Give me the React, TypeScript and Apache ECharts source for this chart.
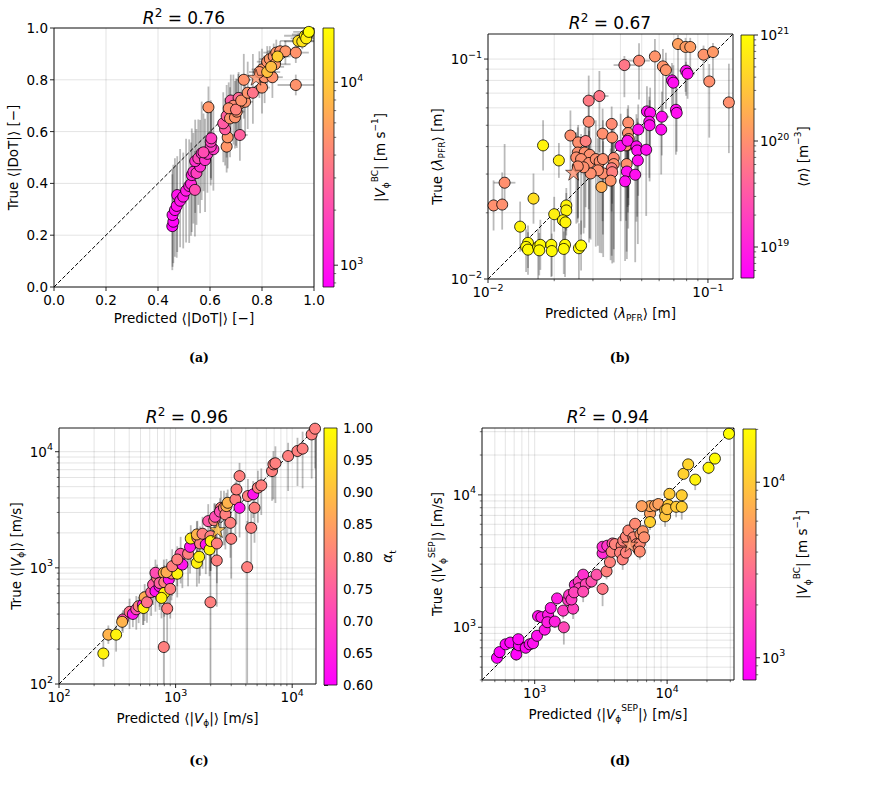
import React, { useEffect, useRef } from 'react';
import * as echarts from 'echarts';

const FONT = 'DejaVu Sans';
const FS = 13.5;

// ---------------- (a) DoT ----------------
const dotRange = [0, 1];
const dotTicks = [0, 0.2, 0.4, 0.6, 0.8, 1.0];
const dotColorRange = [760, 19800];
const dotR2 = '0.76';
// [predicted, true, |V_BC|, xErr, yErrDown, yErrUp]
const dotPoints = [
  [0.455, 0.235, 780, 0.012, 0.17, 0.2], [0.459, 0.252, 820, 0.012, 0.16, 0.22],
  [0.456, 0.278, 880, 0.012, 0.2, 0.18], [0.465, 0.297, 900, 0.015, 0.18, 0.2],
  [0.472, 0.313, 950, 0.015, 0.2, 0.16], [0.474, 0.355, 1000, 0.015, 0.22, 0.15],
  [0.485, 0.333, 1000, 0.015, 0.18, 0.2], [0.497, 0.349, 1050, 0.015, 0.2, 0.17],
  [0.508, 0.372, 1100, 0.02, 0.2, 0.2], [0.52, 0.39, 1200, 0.02, 0.22, 0.18],
  [0.527, 0.398, 1250, 0.02, 0.2, 0.16], [0.542, 0.375, 2000, 0.02, 0.18, 0.15],
  [0.53, 0.432, 1250, 0.02, 0.22, 0.18], [0.536, 0.445, 1300, 0.02, 0.2, 0.15],
  [0.548, 0.44, 1700, 0.02, 0.2, 0.17], [0.562, 0.465, 1350, 0.02, 0.18, 0.18],
  [0.543, 0.486, 1400, 0.02, 0.2, 0.16], [0.555, 0.497, 1900, 0.02, 0.18, 0.15],
  [0.568, 0.516, 1450, 0.02, 0.18, 0.2], [0.581, 0.49, 1450, 0.02, 0.2, 0.16],
  [0.59, 0.514, 1500, 0.02, 0.15, 0.18], [0.613, 0.532, 1550, 0.02, 0.16, 0.15],
  [0.603, 0.542, 1600, 0.02, 0.15, 0.16], [0.603, 0.561, 1650, 0.02, 0.14, 0.16],
  [0.605, 0.574, 1700, 0.02, 0.16, 0.14], [0.575, 0.52, 2000, 0.02, 0.15, 0.15],
  [0.594, 0.694, 5200, 0.02, 0.1, 0.08], [0.664, 0.542, 5200, 0.02, 0.1, 0.12],
  [0.668, 0.578, 5200, 0.02, 0.12, 0.12], [0.715, 0.587, 2600, 0.03, 0.1, 0.1],
  [0.658, 0.609, 2500, 0.02, 0.14, 0.12], [0.651, 0.632, 2400, 0.02, 0.15, 0.12],
  [0.664, 0.66, 2600, 0.02, 0.16, 0.12], [0.677, 0.651, 5000, 0.02, 0.15, 0.12],
  [0.696, 0.655, 5000, 0.02, 0.12, 0.14], [0.703, 0.677, 5000, 0.03, 0.14, 0.12],
  [0.709, 0.703, 5200, 0.03, 0.13, 0.12], [0.735, 0.715, 5000, 0.03, 0.12, 0.1],
  [0.68, 0.72, 2500, 0.02, 0.15, 0.1], [0.71, 0.73, 2900, 0.02, 0.12, 0.1],
  [0.69, 0.7, 4500, 0.03, 0.15, 0.12], [0.672, 0.69, 4800, 0.02, 0.16, 0.1],
  [0.7, 0.685, 4000, 0.02, 0.14, 0.12], [0.72, 0.72, 5000, 0.03, 0.12, 0.1],
  [0.745, 0.75, 5000, 0.03, 0.14, 0.12], [0.765, 0.75, 3400, 0.03, 0.12, 0.15],
  [0.73, 0.8, 5000, 0.03, 0.15, 0.1], [0.8, 0.77, 5000, 0.03, 0.1, 0.1],
  [0.81, 0.81, 5000, 0.04, 0.1, 0.08], [0.84, 0.81, 5000, 0.04, 0.08, 0.08],
  [0.8, 0.84, 5200, 0.04, 0.08, 0.08], [0.79, 0.83, 5000, 0.04, 0.1, 0.08],
  [0.82, 0.87, 5000, 0.04, 0.06, 0.06], [0.83, 0.88, 5400, 0.04, 0.06, 0.05],
  [0.845, 0.89, 5000, 0.04, 0.06, 0.05], [0.855, 0.905, 5200, 0.05, 0.05, 0.05],
  [0.87, 0.91, 5000, 0.05, 0.05, 0.04], [0.89, 0.91, 5200, 0.05, 0.05, 0.04],
  [0.93, 0.905, 5000, 0.05, 0.04, 0.04], [0.85, 0.86, 5500, 0.06, 0.05, 0.05],
  [0.82, 0.83, 9000, 0.05, 0.06, 0.05], [0.835, 0.85, 8500, 0.05, 0.05, 0.05],
  [0.86, 0.89, 10500, 0.05, 0.05, 0.04], [0.93, 0.78, 5000, 0.07, 0.04, 0.04],
  [0.94, 0.95, 13000, 0.07, 0.03, 0.03], [0.955, 0.948, 14000, 0.07, 0.03, 0.03],
  [0.965, 0.97, 17000, 0.08, 0.02, 0.02], [0.975, 0.975, 19500, 0.06, 0.02, 0.02],
  [0.97, 0.96, 16000, 0.06, 0.02, 0.02], [0.98, 0.985, 19000, 0.06, 0.02, 0.01],
];
const dotStar = [0.777, 0.81, 5000];

// ---------------- (b) lambda_PFR ----------------
const lamRange = [0.01, 0.13];
const lamColorRange = [5.1e18, 1e21];
const lamR2 = '0.67';
// [predicted, true, <n>, xErrFactor, yErrDownFactor, yErrUpFactor]
const lamPoints = [
  [0.0731, 0.117, 1.4e20, 1, 1.5, 1.1], [0.0791, 0.1135, 1.3e20, 1, 1.6, 1.1],
  [0.0831, 0.1135, 1.3e20, 1, 1.3, 1.1], [0.0955, 0.1047, 1.1e20, 1, 1.3, 1.1],
  [0.1054, 0.1076, 1.2e20, 1, 1.4, 1.1], [0.0574, 0.1028, 1.1e20, 1, 1.8, 1.2],
  [0.0486, 0.0983, 9e19, 1.12, 1.5, 1.2], [0.0417, 0.0939, 6e19, 1.12, 1.4, 1.1],
  [0.0624, 0.0926, 1.1e20, 1, 1.6, 1.2], [0.0644, 0.0891, 1.1e20, 1, 1.5, 1.2],
  [0.1014, 0.0791, 1e20, 1, 1.8, 1.2], [0.1245, 0.0635, 1e20, 1, 1.7, 1.5],
  [0.0321, 0.0679, 6e19, 1.1, 1.8, 1.3], [0.0287, 0.0647, 6.5e19, 1, 2.2, 1.3],
  [0.0287, 0.0519, 9e19, 1, 2.5, 1.3], [0.0365, 0.0507, 9e19, 1, 2.5, 1.2],
  [0.0434, 0.0514, 1e20, 1, 2.2, 1.2], [0.0237, 0.0449, 1e20, 1, 2.2, 1.3],
  [0.0332, 0.0458, 1e20, 1, 2.5, 1.3], [0.0367, 0.044, 1e20, 1, 2, 1.2],
  [0.0257, 0.0418, 1e20, 1, 2.2, 1.2], [0.0278, 0.0424, 7e19, 1, 2, 1.2],
  [0.0433, 0.0461, 1e20, 1, 2.3, 1.2], [0.0436, 0.0433, 1e20, 1, 2, 1.2],
  [0.0434, 0.0407, 1e20, 1, 2.4, 1.3], [0.0256, 0.0376, 1e20, 1, 2, 1.3],
  [0.0275, 0.0376, 1e20, 1, 2.2, 1.3], [0.029, 0.0367, 1e20, 1, 2.4, 1.4],
  [0.0252, 0.0357, 1e20, 1, 2, 1.3], [0.0265, 0.0351, 1e20, 1, 2.2, 1.3],
  [0.0288, 0.0337, 1e20, 1, 2.3, 1.4], [0.0309, 0.0351, 1e20, 1, 2.5, 1.5],
  [0.0322, 0.0342, 1e20, 1, 2.6, 1.4], [0.0333, 0.0351, 1e20, 1, 2.2, 1.5],
  [0.0373, 0.0355, 9e19, 1, 2.6, 1.5], [0.0373, 0.0333, 1e20, 1, 2.8, 1.4],
  [0.0365, 0.0319, 7e19, 1, 2.5, 1.5], [0.0334, 0.0302, 1e20, 1, 2.4, 1.4],
  [0.0316, 0.0312, 1e20, 1, 2.2, 1.4], [0.0293, 0.0302, 1e20, 1, 2, 1.4],
  [0.0272, 0.0322, 1e20, 1, 2, 1.3], [0.0256, 0.0325, 1e20, 1, 1.8, 1.3],
  [0.0367, 0.0306, 7e19, 1, 2.6, 1.5], [0.0427, 0.0333, 1e20, 1, 2.5, 1.5],
  [0.0361, 0.028, 1.1e20, 1, 2.3, 1.4], [0.0328, 0.0262, 1.8e20, 1, 2, 1.4],
  [0.0119, 0.0274, 1e20, 1.12, 1.3, 1.5], [0.0106, 0.0216, 1e20, 1, 1.3, 1.3],
  [0.0116, 0.0218, 1e20, 1, 1.3, 1.4], [0.0424, 0.0405, 1e20, 1, 2.2, 1.3],
  [0.0795, 0.0885, 7e18, 1.08, 1.3, 1.1], [0.0808, 0.0858, 7e18, 1.08, 1.3, 1.1],
  [0.0686, 0.08, 7e18, 1, 1.4, 1.2], [0.0696, 0.0781, 7e18, 1, 1.4, 1.2],
  [0.0528, 0.0578, 7e18, 1.06, 1.6, 1.3], [0.0546, 0.057, 7e18, 1, 1.5, 1.3],
  [0.0617, 0.0547, 7e18, 1.08, 1.5, 1.3], [0.0715, 0.0588, 7e18, 1, 1.6, 1.3],
  [0.0721, 0.0569, 7e18, 1, 1.5, 1.3], [0.0541, 0.0519, 7e18, 1, 1.8, 1.3],
  [0.0543, 0.05, 7e18, 1, 1.8, 1.3], [0.0613, 0.0478, 7e18, 1, 1.6, 1.3],
  [0.0482, 0.0478, 7e18, 1, 2, 1.3], [0.0401, 0.0403, 7e18, 1, 2.2, 1.4],
  [0.0431, 0.0425, 8e18, 1, 2, 1.4], [0.0473, 0.0401, 7e18, 1, 2.2, 1.4],
  [0.0477, 0.0384, 7e18, 1, 2, 1.4], [0.0524, 0.0387, 7e18, 1, 2, 1.4],
  [0.048, 0.0346, 7e18, 1, 2.4, 1.5], [0.0428, 0.0308, 7e18, 1, 2.5, 1.5],
  [0.0467, 0.0298, 7e18, 1, 2.5, 1.5], [0.042, 0.0278, 7e18, 1, 2.3, 1.6],
  [0.0178, 0.0405, 8e20, 1, 1.3, 1.3], [0.021, 0.0346, 7e20, 1, 1.2, 1.2],
  [0.0161, 0.0232, 5e20, 1, 1.3, 1.3], [0.02, 0.0197, 7e20, 1, 1.2, 1.2],
  [0.0227, 0.0216, 8e20, 1, 1.3, 1.2], [0.0227, 0.0205, 8e20, 1, 1.3, 1.2],
  [0.0219, 0.0185, 8e20, 1, 1.3, 1.2], [0.0225, 0.0181, 8e20, 1, 1.3, 1.2],
  [0.014, 0.0173, 8e20, 1, 1.3, 1.3], [0.0152, 0.0146, 9e20, 1, 1.3, 1.2],
  [0.0149, 0.014, 9e20, 1, 1.3, 1.2], [0.0152, 0.0136, 9e20, 1, 1.3, 1.2],
  [0.0169, 0.014, 9e20, 1, 1.4, 1.2], [0.0173, 0.0143, 9e20, 1, 1.3, 1.3],
  [0.0171, 0.0135, 9e20, 1, 1.3, 1.2], [0.0194, 0.0143, 9e20, 1, 1.4, 1.3],
  [0.0195, 0.0134, 9e20, 1, 1.3, 1.2], [0.0224, 0.0143, 9e20, 1, 1.4, 1.3],
  [0.0221, 0.0137, 9e20, 1, 1.3, 1.2], [0.0259, 0.0138, 9e20, 1, 1.4, 1.3],
  [0.0265, 0.0142, 9e20, 1, 1.3, 1.3],
];
const lamStar = [0.0245, 0.0306, 1e20];

// ---------------- (c) V_phi ----------------
const vphiRange = [100, 16000];
const vphiColorRange = [0.6, 1.0];
const vphiColorStep = 0.05;
const vphiR2 = '0.96';
// [predicted, true, alpha_t, xErrFactor, yErrDownFactor, yErrUpFactor]
const vphiPoints = [
  [240, 183, 0.98, 1, 1.3, 1.3], [265, 266, 0.88, 1, 1.2, 1.2], [309, 266, 0.98, 1, 1.4, 1.2],
  [353, 359, 0.72, 1, 1.3, 1.2], [348, 343, 0.88, 1, 1.2, 1.2], [403, 418, 0.78, 1, 1.4, 1.3],
  [430, 401, 0.63, 1, 1.3, 1.2], [460, 440, 0.72, 1, 1.5, 1.3], [482, 468, 0.8, 1, 1.4, 1.2],
  [525, 483, 0.63, 1, 1.5, 1.3], [530, 451, 0.98, 1, 1.4, 1.2], [543, 558, 0.87, 1, 1.6, 1.3],
  [568, 506, 0.78, 1, 1.5, 1.3], [617, 617, 0.75, 1, 1.6, 1.4], [641, 718, 0.74, 1, 1.5, 1.3],
  [694, 820, 0.8, 1, 1.6, 1.3], [672, 906, 0.72, 1, 1.7, 1.3], [672, 629, 0.63, 1, 1.5, 1.3],
  [729, 694, 0.63, 1, 1.6, 1.3], [792, 906, 0.88, 1, 1.8, 1.3], [729, 740, 0.75, 1, 1.6, 1.3],
  [800, 752, 0.8, 1, 1.7, 1.4], [800, 608, 0.98, 1, 1.6, 1.3], [757, 551, 0.98, 1, 1.5, 1.3],
  [847, 446, 0.8, 1, 2.2, 1.4], [792, 208, 0.8, 1, 3, 3.2], [875, 793, 0.63, 1, 1.6, 1.3],
  [900, 659, 0.8, 1, 1.8, 1.4], [922, 893, 0.8, 1, 1.7, 1.3], [1033, 890, 0.98, 1, 1.6, 1.3],
  [836, 918, 0.87, 1, 1.7, 1.3], [935, 1033, 0.8, 1, 1.8, 1.4], [1143, 1069, 0.63, 1, 1.6, 1.3],
  [1104, 1321, 0.74, 1, 1.8, 1.4], [1033, 1180, 0.8, 1, 1.7, 1.3], [1279, 1321, 0.8, 1, 1.9, 1.4],
  [1330, 1517, 0.63, 1, 1.7, 1.3], [1521, 1103, 0.98, 1, 1.6, 1.3], [1591, 1245, 0.98, 1, 1.7, 1.3],
  [1349, 1790, 0.97, 1, 1.6, 1.3], [1538, 1815, 0.8, 1, 1.8, 1.4], [1622, 1622, 0.8, 1, 1.9, 1.4],
  [1521, 1938, 0.88, 1, 1.8, 1.3], [1702, 1965, 0.8, 1, 2, 1.4], [1815, 1589, 0.63, 1, 1.8, 1.3],
  [1955, 1440, 0.98, 1, 1.7, 1.3], [1990, 1875, 0.8, 1, 2, 1.4], [2000, 1700, 0.97, 1, 1.8, 1.3],
  [1905, 2525, 0.74, 1, 1.8, 1.4], [2143, 2565, 0.8, 1, 2, 1.4], [2180, 2754, 0.72, 1, 1.8, 1.3],
  [2449, 3290, 0.8, 1, 2, 1.4], [2400, 3050, 0.72, 1, 1.8, 1.3], [2600, 3290, 0.8, 1, 2.1, 1.4],
  [2673, 2883, 0.8, 1, 2, 1.4], [2727, 3403, 0.88, 1, 1.9, 1.3], [2800, 3631, 0.88, 1, 1.9, 1.3],
  [2950, 2443, 0.8, 1, 2, 1.4], [3000, 1780, 0.8, 1, 2.2, 1.5], [2260, 1622, 0.8, 1, 2.2, 1.4],
  [2255, 1157, 0.8, 1, 2.5, 1.4], [3258, 3882, 0.8, 1, 2, 1.4], [3330, 4730, 0.8, 1, 2, 1.3],
  [3535, 6166, 0.8, 1, 1.8, 1.3], [3535, 3290, 0.63, 1, 1.8, 1.3], [4170, 4150, 0.8, 1, 2, 1.4],
  [4630, 4300, 0.63, 1, 1.6, 1.3], [4750, 3290, 0.8, 1, 2, 1.4], [4450, 2213, 0.8, 1, 2.2, 1.5],
  [4110, 1014, 0.8, 1, 10, 2.5], [1990, 506, 0.8, 1, 5, 2.8], [5082, 4900, 0.8, 1, 2, 1.4],
  [5430, 5128, 0.8, 1, 1.8, 1.4], [6714, 6808, 0.8, 1, 1.8, 1.3], [6900, 7780, 0.8, 1, 2, 1.3],
  [7180, 7950, 0.8, 1, 2.2, 1.4], [9230, 9180, 0.8, 1, 2, 1.3], [11100, 10140, 0.8, 1, 2, 1.3],
  [12280, 10630, 0.8, 1, 2.2, 1.4], [14690, 14090, 0.8, 1, 2.4, 1.3], [15700, 15780, 0.8, 1, 2.2, 1.3],
];
const vphiStar = [2290, 2138, 0.9];

// ---------------- (d) V_phi SEP ----------------
const vsepRange = [400, 32000];
const vsepColorRange = [747, 20100];
const vsepR2 = '0.94';
// [predicted, true, |V_BC|, xErrFactor, yErrDownFactor, yErrUpFactor]
const vsepPoints = [
  [519, 588, 760, 1, 1.05, 1], [543, 650, 780, 1, 1.05, 1], [603, 744, 800, 1, 1.05, 1],
  [655, 767, 820, 1, 1.05, 1], [726, 624, 800, 1, 1.12, 1], [761, 731, 830, 1, 1.08, 1],
  [752, 813, 850, 1, 1.05, 1], [855, 701, 870, 1, 1.1, 1], [916, 744, 900, 1, 1.08, 1],
  [972, 758, 920, 1, 1.08, 1], [1041, 863, 950, 1, 1.1, 1], [1190, 960, 1000, 1, 1.1, 1],
  [1060, 1215, 980, 1, 1.05, 1], [1123, 1194, 1000, 1, 1.05, 1], [1262, 1244, 1050, 1, 1.08, 1],
  [1322, 1400, 1050, 1, 1.05, 1], [1247, 1093, 1100, 1, 1.1, 1], [1418, 1105, 1150, 1, 1.12, 1],
  [1476, 1652, 1100, 1, 1.05, 1], [1640, 1336, 1600, 1, 1.15, 1], [1660, 1000, 1900, 1, 1.35, 1],
  [1788, 1604, 1600, 1, 1.1, 1], [1820, 1753, 1500, 1, 1.08, 1], [1950, 1384, 1700, 1, 1.2, 1],
  [1894, 1622, 1600, 1, 1.1, 1], [2010, 2093, 1200, 1, 1.05, 1], [2153, 2219, 1700, 1, 1.08, 1],
  [2165, 1972, 1800, 1, 1.1, 1], [2323, 2497, 1400, 1, 1.05, 1], [2433, 2117, 1900, 1, 1.12, 1],
  [1983, 1837, 1800, 1, 1.1, 1], [2323, 1859, 2000, 1, 1.2, 1], [2686, 2219, 2100, 1, 1.12, 1],
  [2931, 2497, 2200, 1, 1.1, 1], [3256, 1950, 3500, 1, 1.35, 1], [3256, 3622, 1300, 1, 1.05, 1],
  [3256, 4055, 1300, 1, 1.05, 1], [3532, 4132, 1500, 1, 1.05, 1], [3874, 4297, 2500, 1, 1.06, 1],
  [3489, 2649, 4000, 1, 1.15, 1], [3699, 3105, 4000, 1, 1.12, 1], [3806, 3727, 4000, 1, 1.1, 1],
  [4036, 4249, 4000, 1, 1.08, 1], [4537, 4132, 4200, 1, 1.12, 1], [4407, 3664, 4000, 1, 1.15, 1],
  [4619, 3258, 4000, 1, 1.2, 1], [4664, 4507, 4000, 1, 1.1, 1], [4889, 4840, 4200, 1, 1.1, 1],
  [5097, 5380, 4300, 1, 1.08, 1], [4889, 3664, 4000, 1, 1.15, 1], [5559, 4778, 4400, 1, 1.12, 1],
  [5728, 6053, 4500, 1, 1.08, 1], [5870, 4249, 4400, 1, 1.15, 1], [6066, 3890, 4500, 1, 1.15, 1],
  [6220, 4290, 4400, 1, 1.15, 1], [6290, 5070, 5000, 1, 1.12, 1], [6545, 5320, 5200, 1, 1.12, 1],
  [6220, 3733, 4600, 1, 1.15, 1], [6700, 4778, 4800, 1, 1.12, 1], [7430, 7228, 6000, 1, 1.08, 1],
  [7430, 8225, 6500, 1, 1.06, 1], [8110, 8305, 6000, 1, 1.06, 1], [6430, 8225, 6000, 1, 1.05, 1],
  [8590, 8530, 6000, 1, 1.06, 1], [7430, 6237, 11000, 1, 1.15, 1], [9660, 7670, 9500, 1, 1.2, 1],
  [9660, 6890, 9500, 1, 1.2, 1], [10230, 8380, 10000, 1, 1.15, 1], [10420, 10180, 10000, 1, 1.1, 1],
  [10000, 7800, 9000, 1, 1.18, 1], [11700, 8130, 10000, 1, 1.2, 1], [12900, 8130, 10500, 1, 1.25, 1],
  [12900, 9940, 10500, 1, 1.15, 1], [13300, 14420, 11000, 1, 1.08, 1], [14420, 17000, 11500, 1, 1.08, 1],
  [16300, 13040, 17000, 1, 1.2, 1], [20560, 16030, 18000, 1, 1.12, 1], [22960, 18800, 19000, 1, 1.1, 1],
  [29310, 28970, 19500, 1, 1.08, 1], [31420, 33570, 20000, 1, 1.05, 1],
];
const vsepStar = [5224, 4249, 5000];

// ---------------- helpers ----------------
const spring = (t: number) => {
  const u = Math.max(0, Math.min(1, t));
  return `rgb(255,${Math.round(255 * u)},${Math.round(255 * (1 - u))})`;
};
const normC = (c: number, r: number[], log: boolean) =>
  log ? (Math.log10(c) - Math.log10(r[0])) / (Math.log10(r[1]) - Math.log10(r[0])) : (c - r[0]) / (r[1] - r[0]);

const logTicks = (min: number, max: number) => {
  const major: number[] = [];
  const minor: number[] = [];
  for (let d = Math.floor(Math.log10(min)); d <= Math.ceil(Math.log10(max)); d++) {
    for (let m = 1; m <= 9; m++) {
      const v = parseFloat((m * Math.pow(10, d)).toPrecision(6));
      if (v < min * 0.9999 || v > max * 1.0001) continue;
      (m === 1 ? major : minor).push(v);
    }
  }
  return { major, minor };
};

const logFmt = (v: number) => {
  const e = Math.log10(v);
  const r = Math.round(e);
  if (Math.abs(e - r) > 1e-6) return '';
  return '10{sup|' + (r < 0 ? '\u2212' + -r : String(r)) + '}';
};

const STAR = 'path://M0,-1L0.2245,-0.309L0.951,-0.309L0.3633,0.118L0.5878,0.809L0,0.382L-0.5878,0.809L-0.3633,0.118L-0.951,-0.309L-0.2245,-0.309Z';

const nameRich = {
  i: { fontStyle: 'italic', fontSize: FS, fontFamily: FONT, color: '#000', lineHeight: 20 },
  sub: { fontSize: 9, fontFamily: FONT, color: '#000', verticalAlign: 'bottom', lineHeight: 20 },
  sup: { fontSize: 9, fontFamily: FONT, color: '#000', verticalAlign: 'top', lineHeight: 20 },
};
const labelRich = {
  sup: { fontSize: 9.5, fontFamily: FONT, color: '#000', verticalAlign: 'top', lineHeight: 20 },
};

const VSUB = '{i|V}{sub|\u03d5}';

const panels = [
  {
    pts: dotPoints, star: dotStar, log: false, range: dotRange, ticks: { major: dotTicks, minor: [] as number[] },
    cRange: dotColorRange, cLog: true, r2: dotR2,
    grid: { left: 54, top: 28, width: 260, height: 259 },
    cb: { left: 323, top: 28, width: 11, height: 259 },
    xName: 'Predicted \u27e8|DoT|\u27e9 [\u2212]', yName: 'True \u27e8|DoT|\u27e9 [\u2212]',
    cbName: '|' + VSUB + '{sup|BC}| [m s{sup|\u22121}]',
    xGap: 15, yGap: 31, cbGap: 36, titleXY: [184, 18], label: '(a)', labelXY: [199, 357],
  },
  {
    pts: lamPoints, star: lamStar, log: true, range: lamRange, ticks: logTicks(lamRange[0], lamRange[1]),
    cRange: lamColorRange, cLog: true, r2: lamR2,
    grid: { left: 488, top: 34, width: 245, height: 245 },
    cb: { left: 741, top: 35, width: 13, height: 243 },
    xName: 'Predicted \u27e8{i|\u03bb}{sub|PFR}\u27e9 [m]', yName: 'True \u27e8{i|\u03bb}{sub|PFR}\u27e9 [m]',
    cbName: '\u27e8{i|n}\u27e9 [m{sup|\u22123}]',
    xGap: 17, yGap: 40, cbGap: 38, titleXY: [610, 23], label: '(b)', labelXY: [620, 357],
  },
  {
    pts: vphiPoints, star: vphiStar, log: true, range: vphiRange, ticks: logTicks(vphiRange[0], vphiRange[1]),
    cRange: vphiColorRange, cLog: false, r2: vphiR2,
    grid: { left: 59, top: 428, width: 257, height: 256 },
    cb: { left: 324, top: 428, width: 13, height: 257 },
    xName: 'Predicted \u27e8|' + VSUB + '|\u27e9 [m/s]', yName: 'True \u27e8|' + VSUB + '|\u27e9 [m/s]',
    cbName: '{i|\u03b1}{sub|t}',
    xGap: 18, yGap: 33, cbGap: 40, titleXY: [187, 417], label: '(c)', labelXY: [199, 760],
  },
  {
    pts: vsepPoints, star: vsepStar, log: true, range: vsepRange, ticks: logTicks(vsepRange[0], vsepRange[1]),
    cRange: vsepColorRange, cLog: true, r2: vsepR2,
    grid: { left: 482, top: 428, width: 252, height: 252 },
    cb: { left: 743, top: 429, width: 13, height: 251 },
    xName: 'Predicted \u27e8|' + VSUB + '{sup|SEP}|\u27e9 [m/s]', yName: 'True \u27e8|' + VSUB + '{sup|SEP}|\u27e9 [m/s]',
    cbName: '|' + VSUB + '{sup|BC}| [m s{sup|\u22121}]',
    xGap: 18, yGap: 35, cbGap: 36, titleXY: [608, 417], label: '(d)', labelXY: [620, 760],
  },
];

const tickRender = (kind: string) => (params: any, api: any) => {
  const cs = params.coordSys;
  const ax = api.value(2);
  const major = api.value(3) === 1;
  const p = api.coord([api.value(0), api.value(1)]);
  const tl = major ? 4 : 2.2;
  const tickStyle = { stroke: '#111', lineWidth: major ? 0.9 : 0.6 };
  const gridStyle = { stroke: 'rgba(0,0,0,0.11)', lineWidth: 1 };
  const ch: any[] = [];
  if (ax === 0) {
    const x = p[0];
    ch.push({ type: 'line', shape: { x1: x, y1: cs.y, x2: x, y2: cs.y + cs.height }, style: gridStyle });
    ch.push({ type: 'line', shape: { x1: x, y1: cs.y + cs.height, x2: x, y2: cs.y + cs.height + tl }, style: tickStyle });
  } else {
    const y = p[1];
    if (kind === 'panel') {
      ch.push({ type: 'line', shape: { x1: cs.x, y1: y, x2: cs.x + cs.width, y2: y }, style: gridStyle });
      ch.push({ type: 'line', shape: { x1: cs.x - tl, y1: y, x2: cs.x, y2: y }, style: tickStyle });
    } else {
      ch.push({ type: 'line', shape: { x1: cs.x + cs.width, y1: y, x2: cs.x + cs.width + tl, y2: y }, style: tickStyle });
    }
  }
  return { type: 'group', children: ch };
};

const errRender = (params: any, api: any) => {
  const x = api.value(0), y = api.value(1);
  const xl = api.value(2), xh = api.value(3), yl = api.value(4), yh = api.value(5);
  const st = { stroke: 'rgba(0,0,0,0.27)', lineWidth: 1.8 };
  const ch: any[] = [];
  if (yh > yl) {
    const a = api.coord([x, yl]), b = api.coord([x, yh]);
    ch.push({ type: 'line', shape: { x1: a[0], y1: a[1], x2: b[0], y2: b[1] }, style: st });
  }
  if (xh > xl) {
    const a = api.coord([xl, y]), b = api.coord([xh, y]);
    ch.push({ type: 'line', shape: { x1: a[0], y1: a[1], x2: b[0], y2: b[1] }, style: st });
  }
  return { type: 'group', children: ch };
};

const gradRender = (params: any) => {
  const cs = params.coordSys;
  return {
    type: 'rect',
    shape: { x: cs.x, y: cs.y, width: cs.width, height: cs.height },
    style: {
      fill: { type: 'linear', x: 0, y: 0, x2: 0, y2: 1, colorStops: [{ offset: 0, color: '#ffff00' }, { offset: 1, color: '#ff00ff' }] },
      stroke: '#111', lineWidth: 0.8,
    },
  };
};

function buildOption() {
  const grid: any[] = [];
  const xAxis: any[] = [];
  const yAxis: any[] = [];
  const series: any[] = [];
  const graphic: any[] = [];

  panels.forEach((p) => {
    const gi = grid.length;
    grid.push({ ...p.grid, show: true, borderColor: '#1a1a1a', borderWidth: 1, backgroundColor: 'transparent' });
    const nameStyle = { fontSize: FS, fontFamily: FONT, color: '#000', lineHeight: 20, rich: nameRich };
    const base: any = {
      type: p.log ? 'log' : 'value', logBase: 10, min: p.range[0], max: p.range[1],
      axisLine: { show: false }, axisTick: { show: false }, splitLine: { show: false },
      axisLabel: p.log
        ? { fontFamily: FONT, fontSize: FS, color: '#000', margin: 3, lineHeight: 20, formatter: logFmt, rich: labelRich }
        : { fontFamily: FONT, fontSize: FS, color: '#000', margin: 6, formatter: (v: number) => v.toFixed(1) },
      nameLocation: 'middle', nameTextStyle: nameStyle,
    };
    if (!p.log) base.interval = 0.2;
    const xi = xAxis.length;
    xAxis.push({ ...base, gridIndex: gi, name: p.xName, nameGap: p.xGap });
    yAxis.push({ ...base, gridIndex: gi, name: p.yName, nameGap: p.yGap, axisLabel: { ...base.axisLabel, margin: 6 } });

    const lo = p.range[0];
    const tickData: number[][] = [];
    p.ticks.major.forEach((v) => { tickData.push([v, lo, 0, 1]); tickData.push([lo, v, 1, 1]); });
    p.ticks.minor.forEach((v) => { tickData.push([v, lo, 0, 0]); tickData.push([lo, v, 1, 0]); });
    series.push({
      type: 'custom', xAxisIndex: xi, yAxisIndex: xi, data: tickData, renderItem: tickRender('panel'),
      encode: { x: 0, y: 1 }, silent: true, z: 1,
    });
    const errData = p.pts.map((q) => p.log
      ? [q[0], q[1], q[0] / q[3], q[0] * q[3], q[1] / q[4], q[1] * q[5]]
      : [q[0], q[1], q[0] - q[3], q[0] + q[3], q[1] - q[4], q[1] + q[5]]);
    series.push({
      type: 'custom', xAxisIndex: xi, yAxisIndex: xi, data: errData, renderItem: errRender,
      encode: { x: 0, y: 1 }, clip: true, silent: true, z: 2,
    });
    series.push({
      type: 'line', xAxisIndex: xi, yAxisIndex: xi, data: [[p.range[0], p.range[0]], [p.range[1], p.range[1]]],
      symbol: 'none', lineStyle: { color: '#000', width: 1, type: [4, 2] }, silent: true, z: 3,
    });
    series.push({
      type: 'scatter', xAxisIndex: xi, yAxisIndex: xi, symbolSize: 11, z: 4, silent: true,
      data: p.pts.map((q) => ({ value: [q[0], q[1]], itemStyle: { color: spring(normC(q[2], p.cRange, p.cLog)) } })),
      itemStyle: { borderColor: '#000', borderWidth: 0.8, opacity: 1 },
    });
    series.push({
      type: 'scatter', xAxisIndex: xi, yAxisIndex: xi, symbol: STAR, symbolSize: 16, z: 5, silent: true,
      data: [{ value: [p.star[0], p.star[1]], itemStyle: { color: spring(normC(p.star[2], p.cRange, p.cLog)) } }],
      itemStyle: { borderColor: '#000', borderWidth: 0.7 },
    });

    graphic.push({
      type: 'text', x: p.titleXY[0], y: p.titleXY[1], silent: true,
      style: {
        text: '{i|R}{s|2} = ' + p.r2, fontSize: 17, fontFamily: FONT, fill: '#000',
        align: 'center', textAlign: 'center', verticalAlign: 'middle', textVerticalAlign: 'middle', lineHeight: 22,
        rich: {
          i: { fontStyle: 'italic', fontSize: 17, fontFamily: FONT, lineHeight: 22 },
          s: { fontSize: 12, fontFamily: FONT, verticalAlign: 'top', lineHeight: 22 },
        },
      },
    });
    graphic.push({
      type: 'text', x: p.labelXY[0], y: p.labelXY[1], silent: true,
      style: {
        text: p.label, fontSize: 12.5, fontWeight: 'bold', fontFamily: 'DejaVu Serif', fill: '#000',
        align: 'center', textAlign: 'center', verticalAlign: 'middle', textVerticalAlign: 'middle',
      },
    });
  });

  // colorbars
  panels.forEach((p) => {
    const gi = grid.length;
    grid.push({ ...p.cb, show: false });
    const ci = xAxis.length;
    xAxis.push({ type: 'value', gridIndex: gi, min: 0, max: 1, show: false });
    const cbStyle = { fontSize: FS, fontFamily: FONT, color: '#000', lineHeight: 20, rich: nameRich };
    if (p.cLog) {
      yAxis.push({
        type: 'log', logBase: 10, gridIndex: gi, position: 'right', min: p.cRange[0], max: p.cRange[1],
        axisLine: { show: false }, axisTick: { show: false }, splitLine: { show: false },
        axisLabel: { fontFamily: FONT, fontSize: FS, color: '#000', margin: 6, lineHeight: 20, formatter: logFmt, rich: labelRich },
        name: p.cbName, nameLocation: 'middle', nameRotate: 90, nameGap: p.cbGap, nameTextStyle: cbStyle,
      });
      const t = logTicks(p.cRange[0], p.cRange[1]);
      const td: number[][] = [];
      t.major.forEach((v) => td.push([0, v, 1, 1]));
      t.minor.forEach((v) => td.push([0, v, 1, 0]));
      series.push({
        type: 'custom', xAxisIndex: ci, yAxisIndex: ci, data: td, renderItem: tickRender('cb'),
        encode: { x: 0, y: 1 }, silent: true, z: 3,
      });
    } else {
      yAxis.push({
        type: 'value', gridIndex: gi, position: 'right', min: p.cRange[0], max: p.cRange[1], interval: vphiColorStep,
        axisLine: { show: false }, splitLine: { show: false },
        axisTick: { show: true, inside: false, length: 4, lineStyle: { color: '#111', width: 0.9 } },
        axisLabel: { fontFamily: FONT, fontSize: FS, color: '#000', margin: 6, formatter: (v: number) => v.toFixed(2) },
        name: p.cbName, nameLocation: 'middle', nameRotate: 90, nameGap: p.cbGap, nameTextStyle: cbStyle,
      });
    }
    series.push({
      type: 'custom', xAxisIndex: ci, yAxisIndex: ci, data: [[0.5, p.cLog ? Math.sqrt(p.cRange[0] * p.cRange[1]) : (p.cRange[0] + p.cRange[1]) / 2]],
      renderItem: gradRender, encode: { x: 0, y: 1 }, silent: true, z: 1,
    });
  });

  return {
    animation: false,
    backgroundColor: '#ffffff',
    textStyle: { fontFamily: FONT },
    grid, xAxis, yAxis, series, graphic,
  };
}

export default function App() {
  const ref = useRef<HTMLDivElement>(null);
  useEffect(() => {
    document.body.style.margin = '0';
    if (!ref.current) return;
    const chart = echarts.init(ref.current, null, { renderer: 'svg' });
    chart.setOption(buildOption() as any);
    return () => chart.dispose();
  }, []);
  return <div ref={ref} style={{ width: 869, height: 793 }} />;
}
